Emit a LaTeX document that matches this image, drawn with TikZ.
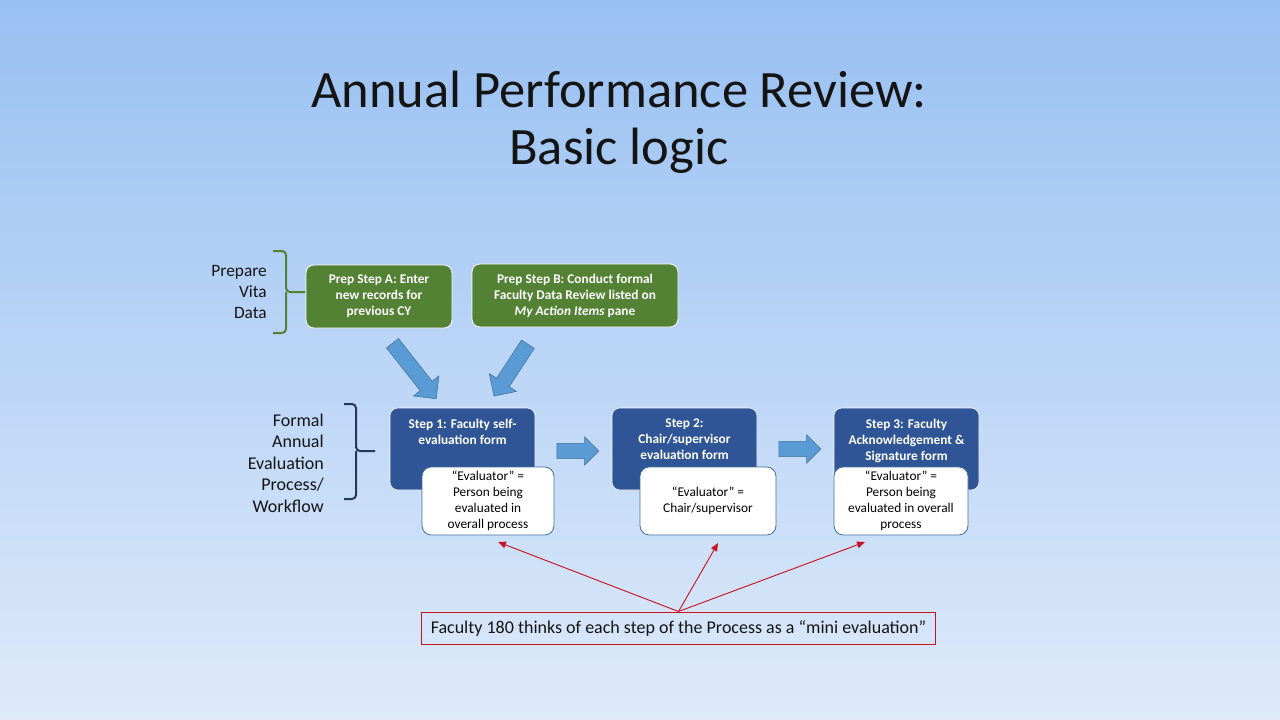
\documentclass[tikz,border=0pt]{standalone}
\usepackage{fontspec}
\setmainfont{Carlito}
\usetikzlibrary{positioning,shapes.arrows,arrows.meta}

\definecolor{bgtop}{RGB}{152,192,242}
\definecolor{bgbot}{RGB}{222,234,250}
\definecolor{prepgreen}{RGB}{84,130,53}
\definecolor{stepblue}{RGB}{47,85,151}
\definecolor{arrowblue}{RGB}{91,155,213}
\definecolor{edgeblue}{RGB}{65,113,156}
\definecolor{bracenavy}{RGB}{38,56,90}
\definecolor{notered}{RGB}{200,20,30}
\definecolor{titlegray}{RGB}{20,20,20}

\tikzset{
  prepbox/.style={draw=white, line width=0.6pt, fill=prepgreen, rounded corners=6pt, text=white, font=\bfseries\fontsize{10}{12}\selectfont, align=center, inner sep=0pt, minimum height=47.25pt},
  stepbox/.style={fill=stepblue, draw=white, line width=0.4pt, rounded corners=6pt, minimum width=108.75pt, minimum height=61.5pt, inner sep=0pt},
  steptext/.style={text=white, font=\bfseries\fontsize{10}{12}\selectfont, align=center, inner sep=0pt, anchor=north},
  evalbox/.style={fill=white, draw=edgeblue, line width=0.6pt, rounded corners=7pt, minimum height=51pt, align=center, font=\fontsize{10}{12}\selectfont, inner sep=0pt},
  fatarrow/.style={single arrow, fill=arrowblue, draw=edgeblue, line width=0.4pt, inner sep=5.5pt, single arrow head extend=5pt, minimum height=#1},
  sidelabel/.style={align=right, anchor=east, text=titlegray, inner sep=0pt},
  redline/.style={notered, line width=0.7pt, -{Triangle[length=6pt,width=5pt]}}
}

\begin{document}
\begin{tikzpicture}[x=0.75pt,y=-0.75pt]
		\shade[top color=bgtop, bottom color=bgbot] (0,0) rectangle (1280,720);
		\useasboundingbox (0,0) rectangle (1280,720);
		
		% title
		\node[font=\fontsize{39.4}{43}\selectfont, text=titlegray, anchor=base] (title) at (619,108) {Annual Performance Review:};
		\node[font=\fontsize{39.4}{43}\selectfont, text=titlegray, anchor=base] (subtitle) at (619,165) {Basic logic};
		
		% left labels and braces
		\node[sidelabel, font=\fontsize{13}{15.75}\selectfont] (vita) at (267,292) {Prepare\\Vita\\Data};
		\node[sidelabel, font=\fontsize{13.5}{16.1}\selectfont] (formal) at (324,463) {Formal\\Annual\\Evaluation\\Process/\\Workflow};
		
		\draw[prepgreen, line width=1.5pt, rounded corners=3pt] (273,251) -- (286,251) -- (286,292) -- (305,292);
		\draw[prepgreen, line width=1.5pt, rounded corners=3pt] (273,333) -- (286,333) -- (286,292);
		\draw[bracenavy, line width=1.5pt, rounded corners=3pt] (344,404) -- (356,404) -- (356,451) -- (375,451);
		\draw[bracenavy, line width=1.5pt, rounded corners=3pt] (344,499) -- (356,499) -- (356,451);
		
		% prep steps
		\node[prepbox, minimum width=109.5pt] (prepA) at (379,296.5) {Prep Step A: Enter\\new records for\\previous CY};
		\node[prepbox, minimum width=154.5pt] (prepB) at (575,295.5) {Prep Step B: Conduct formal\\Faculty Data Review listed on\\\textit{My Action Items} pane};
		
		\node[fatarrow=53pt, single arrow head extend=6.5pt, rotate=-51.8] (downA) at (412,368) {};
		\node[fatarrow=46.5pt, single arrow head extend=6.5pt, rotate=-123.2] (downB) at (513,367) {};
		
		% workflow steps
		\foreach \i/\x in {1/462.5,2/684.5,3/906.5} {
			\node[stepbox] (step\i) at (\x,449) {};
		}
		\node[steptext] (step1txt) at ([yshift=-8pt]step1.north) {Step 1: Faculty self-\\evaluation form};
		\node[steptext] (step2txt) at ([yshift=-8pt]step2.north) {Step 2:\\Chair/supervisor\\evaluation form};
		\node[steptext] (step3txt) at ([yshift=-8pt]step3.north) {Step 3: Faculty\\Acknowledgement \&\\Signature form};
		
		\node[fatarrow=31.5pt] (go12) at (574,451) {};
		\node[fatarrow=31.5pt] (go23) at (796,449) {};
		
		\node[evalbox, minimum width=99pt] (eval1) at (488,501) {“Evaluator” =\\Person being\\evaluated in\\overall process};
		\node[evalbox, minimum width=102pt] (eval2) at (708,501) {“Evaluator” =\\Chair/supervisor};
		\node[evalbox, minimum width=100.5pt] (eval3) at (901,501) {“Evaluator” =\\Person being\\evaluated in overall\\process};
		
		% note
		\node[draw=notered, line width=0.75pt, minimum width=386pt, minimum height=24pt, font=\fontsize{13.5}{16}\selectfont, text=titlegray] (note) at (678.5,628) {Faculty 180 thinks of each step of the Process as a “mini evaluation”};
		
		\coordinate (hit1) at (498,542);
		\coordinate (hit2) at (718,543);
		\coordinate (hit3) at (865,542);
		\foreach \i in {1,2,3}{
			\draw[redline] (note.north) -- (hit\i);
		}
	\end{tikzpicture}
\end{document}
